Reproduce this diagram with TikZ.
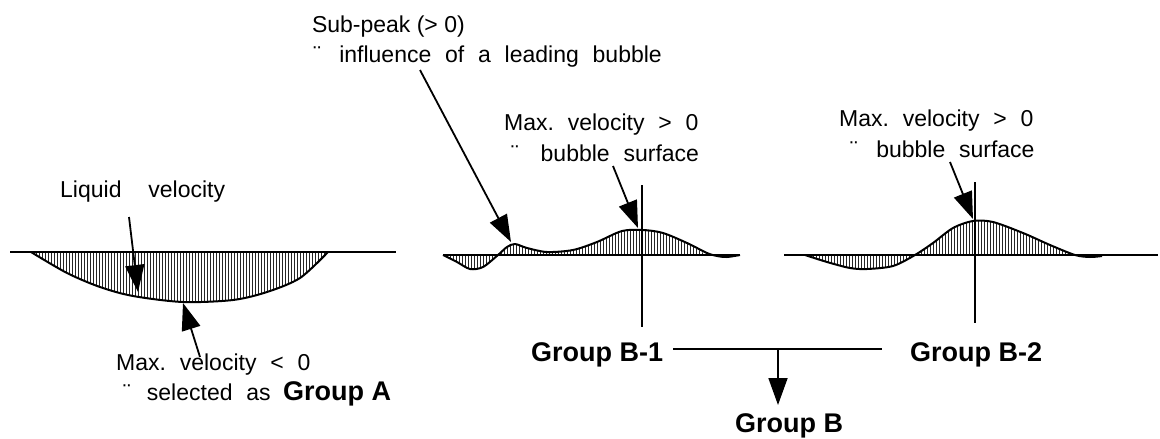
\documentclass[tikz,border=0pt]{standalone}
\usepackage{fontspec}
\setmainfont{Liberation Sans}
\usetikzlibrary{arrows.meta,patterns}
\newcommand{\wsp}{\hspace{0.6em}}
\begin{document}
\begin{tikzpicture}[x=1pt,y=-1pt,
  axis/.style={line width=2pt},
  curve/.style={line width=2pt, line join=round},
  hatch/.style={pattern=vertical lines, pattern color=black!85},
  callout/.style={line width=1.8pt, -{Triangle[length=27pt,width=19pt]}},
  lbl/.style={font=\fontsize{23}{27}\selectfont, anchor=base west, inner sep=0pt},
  grp/.style={font=\fontsize{27}{31}\selectfont\bfseries, anchor=base west, inner sep=0pt}]
\useasboundingbox (0,0) rectangle (1160,439);

% ---------- Panel A ----------
\fill[hatch] plot[smooth] coordinates {(31,252) (67,273) (100,287) (133,296) (183,302) (233,300) (267,292) (300,278) (328,252)} -- cycle;
\draw[axis] (10,252) -- (396,252);
\draw[curve] plot[smooth] coordinates {(31,252) (67,273) (100,287) (133,296) (183,302) (233,300) (267,292) (300,278) (328,252)};

\node[lbl] (liq) at (60,197) {Liquid\hspace{1.17em}velocity};
\node[lbl] (maxA) at (116,370) {Max.\wsp velocity\wsp <\wsp 0};
\node[lbl] (selA) at (123,400) {¨\hspace{0.7em}selected\wsp as};
\node[grp] (grpA) at (283,400) {Group A};
\coordinate (la0) at (129,217);
\coordinate (la1) at (138,292);
\coordinate (ma0) at (200,357);
\coordinate (ma1) at (183,303);
\draw[callout] (la0) -- (la1);
\draw[callout] (ma0) -- (ma1);

% ---------- Panel B-1 ----------
\fill[hatch] plot[smooth] coordinates {(443,255) (457,262) (470,269) (483,267) (498,255) (507,247) (515,244) (527,248) (547,252) (573,250) (597,242) (622,231) (643,230) (663,233) (687,243) (707,255)} -- cycle;
\draw[axis] (443,255) -- (740,255);
\draw[axis] (642,185) -- (642,327);
\draw[curve] plot[smooth] coordinates {(443,255) (457,262) (470,269) (483,267) (498,255) (507,247) (515,244) (527,248) (547,252) (573,250) (597,242) (622,231) (643,230) (663,233) (687,243) (707,253) (717,256) (727,257) (740,255)};

\node[lbl, anchor=base east] (sp1) at (465,32) {Sub-peak (> 0)};
\node[lbl, anchor=base east] (sp2) at (662,62) {¨\hspace{0.8em}influence\wsp of\wsp a\wsp leading\wsp bubble};
\node[lbl] (mb1) at (504,130) {Max.\wsp velocity\wsp >\wsp 0};
\node[lbl] (bs1) at (511,161) {¨\hspace{0.95em}bubble\wsp surface};
\coordinate (sa0) at (420,70);
\coordinate (sa1) at (511,242);
\coordinate (b1a0) at (613,166);
\coordinate (b1a1) at (638,228);
\draw[callout] (sa0) -- (sa1);
\draw[callout] (b1a0) -- (b1a1);

% ---------- Panel B-2 ----------
\fill[hatch] plot[smooth] coordinates {(805,255) (827,262) (850,268) (867,269) (893,266) (915,255) (933,243) (953,228) (973,221) (993,222) (1023,233) (1050,245) (1075,255)} -- cycle;
\draw[axis] (784,255) -- (1158,255);
\draw[axis] (975,182) -- (975,323);
\draw[curve] plot[smooth] coordinates {(805,255) (827,262) (850,268) (867,269) (893,266) (915,255) (933,243) (953,228) (973,221) (993,222) (1023,233) (1050,245) (1075,255) (1090,257) (1102,256)};

\node[lbl] (mb2) at (839,126) {Max.\wsp velocity\wsp >\wsp 0};
\node[lbl] (bs2) at (850,157) {¨\hspace{0.8em}bubble\wsp surface};
\coordinate (b2a0) at (950,162);
\coordinate (b2a1) at (973,219);
\draw[callout] (b2a0) -- (b2a1);

% ---------- Groups ----------
\node[grp] (gb1) at (531,361) {Group B-1};
\node[grp] (gb2) at (910,361) {Group B-2};
\node[grp] (gb) at (735,432) {Group B};
\coordinate (gl0) at (673,349);
\coordinate (gl1) at (882,349);
\coordinate (gm) at (778,349);
\coordinate (gt) at (778,405);
\draw[axis] (gl0) -- (gl1);
\draw[callout] (gm) -- (gt);
\end{tikzpicture}
\end{document}
